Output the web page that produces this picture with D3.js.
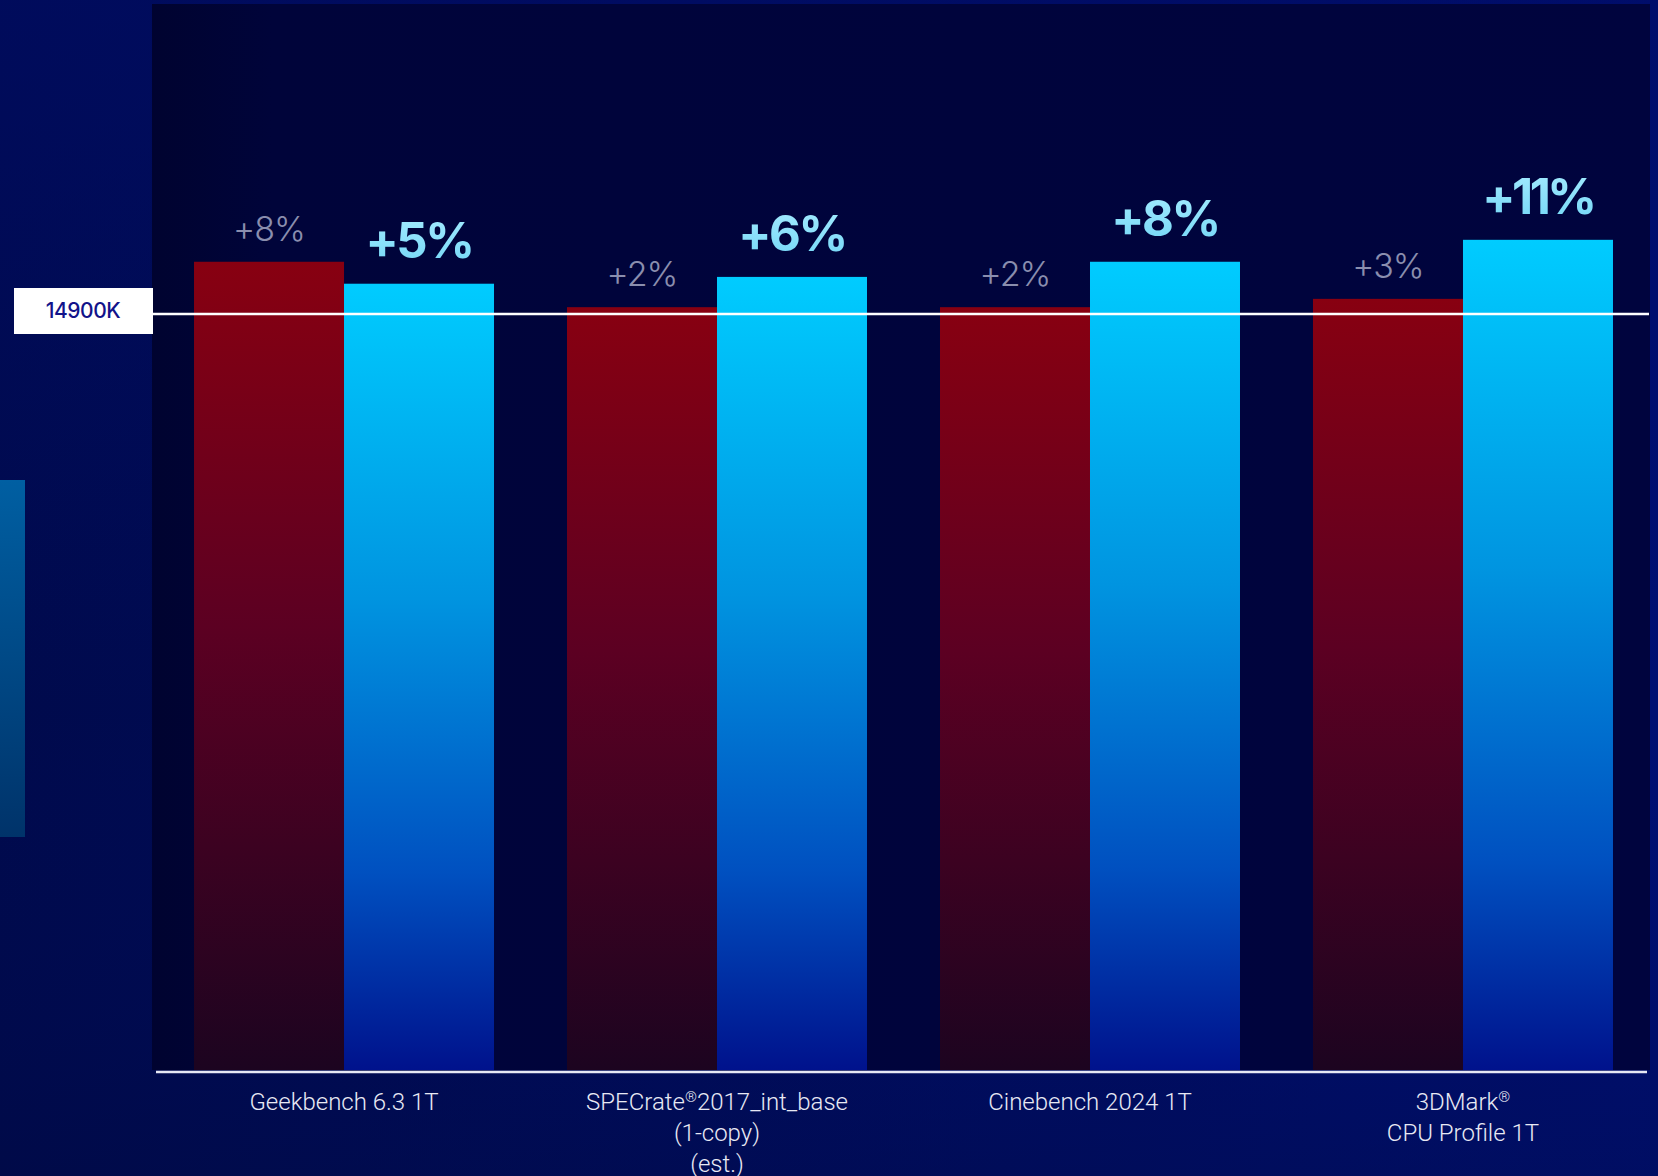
<!DOCTYPE html>
<html>
<head>
<meta charset="utf-8">
<script src="https://cdn.jsdelivr.net/npm/d3@7"></script>
<style>
  html, body { margin: 0; padding: 0; background: #000b52; overflow: hidden; }
  svg { display: block; }
</style>
</head>
<body>
<svg id="chart" width="1658" height="1176"></svg>
<script>
// ---- data (relative performance index, 14900K = 100) ----
const categories = ["Geekbench 6.3 1T", "SPECrate®2017_int_base\n(1-copy)\n(est.)", "Cinebench 2024 1T", "3DMark®\nCPU Profile 1T"];
const series = ["other", "new"];
const otherValues = [106.9, 100.9, 100.9, 102.0];
const newValues = [104.0, 104.9, 106.9, 109.8];
const otherLabels = ["+8%", "+2%", "+2%", "+3%"];
const newLabels = ["+5%", "+6%", "+8%", "+11%"];
const referenceName = "14900K";
const referenceValue = 100;

const W = 1658, H = 1176;
const svg = d3.select("#chart");
const defs = svg.append("defs");

const bg = defs.append("linearGradient").attr("id", "bg").attr("x1", 0).attr("y1", 0).attr("x2", 1).attr("y2", 0);
bg.append("stop").attr("offset", "0%").attr("stop-color", "#000a4c");
bg.append("stop").attr("offset", "100%").attr("stop-color", "#000f72");
const bgv = defs.append("linearGradient").attr("id", "bgv").attr("x1", 0).attr("y1", 0).attr("x2", 0).attr("y2", 1);
bgv.append("stop").attr("offset", "0%").attr("stop-color", "#000c66").attr("stop-opacity", 0.6);
bgv.append("stop").attr("offset", "60%").attr("stop-color", "#000c66").attr("stop-opacity", 0);
bgv.append("stop").attr("offset", "100%").attr("stop-color", "#000a40").attr("stop-opacity", 0.3);

const panelG = defs.append("linearGradient").attr("id", "panel").attr("x1", 0).attr("y1", 0).attr("x2", 1).attr("y2", 0);
panelG.append("stop").attr("offset", "0%").attr("stop-color", "#000330");
panelG.append("stop").attr("offset", "8%").attr("stop-color", "#00043a");
panelG.append("stop").attr("offset", "100%").attr("stop-color", "#00043e");

const redG = defs.append("linearGradient").attr("id", "redG").attr("x1", 0).attr("y1", 0).attr("x2", 0).attr("y2", 1);
redG.append("stop").attr("offset", "0%").attr("stop-color", "#880011");
redG.append("stop").attr("offset", "45%").attr("stop-color", "#5c0022");
redG.append("stop").attr("offset", "100%").attr("stop-color", "#1c0420");

const blueG = defs.append("linearGradient").attr("id", "blueG").attr("x1", 0).attr("y1", 0).attr("x2", 0).attr("y2", 1);
blueG.append("stop").attr("offset", "0%").attr("stop-color", "#00ccff");
blueG.append("stop").attr("offset", "40%").attr("stop-color", "#0094e0");
blueG.append("stop").attr("offset", "75%").attr("stop-color", "#0050c0");
blueG.append("stop").attr("offset", "100%").attr("stop-color", "#00128c");

const stripG = defs.append("linearGradient").attr("id", "stripG").attr("x1", 0).attr("y1", 0).attr("x2", 0).attr("y2", 1);
stripG.append("stop").attr("offset", "0%").attr("stop-color", "#005fa2");
stripG.append("stop").attr("offset", "100%").attr("stop-color", "#00336a");

const labG = defs.append("linearGradient").attr("id", "labG").attr("x1", 0).attr("y1", 0).attr("x2", 0).attr("y2", 1);
labG.append("stop").attr("offset", "0%").attr("stop-color", "#a6ecff");
labG.append("stop").attr("offset", "100%").attr("stop-color", "#72d6f6");

svg.append("rect").attr("width", W).attr("height", H).attr("fill", "url(#bg)");
svg.append("rect").attr("width", W).attr("height", H).attr("fill", "url(#bgv)");
svg.append("rect").attr("x", 0).attr("y", 480).attr("width", 25).attr("height", 357).attr("fill", "url(#stripG)");

// plot panel
svg.append("rect").attr("x", 152).attr("y", 4).attr("width", 1498).attr("height", 1066).attr("fill", "url(#panel)");

// scales
const x = d3.scaleBand().domain(categories).range([157.5, 1649.5]).paddingInner(0.1957).paddingOuter(0.0979);
const xs = d3.scaleBand().domain(series).range([0, x.bandwidth()]).padding(0);
const y = d3.scaleLinear().domain([0, referenceValue]).range([1071, 314]);

const rows = categories.map((c, i) => ({
  cat: c,
  bars: [
    { s: "other", v: otherValues[i], label: otherLabels[i] },
    { s: "new", v: newValues[i], label: newLabels[i] }
  ]
}));

const groups = svg.append("g").selectAll("g").data(rows).join("g")
  .attr("transform", d => `translate(${x(d.cat)},0)`);

groups.selectAll("rect").data(d => d.bars).join("rect")
  .attr("x", d => xs(d.s))
  .attr("y", d => y(d.v))
  .attr("width", xs.bandwidth())
  .attr("height", d => y(0) - y(d.v) - 1)
  .attr("fill", d => d.s === "other" ? "url(#redG)" : "url(#blueG)");

groups.selectAll("text.val").data(d => d.bars).join("text")
  .attr("class", "val")
  .attr("x", d => xs(d.s) + xs.bandwidth() / 2)
  .attr("y", d => y(d.v) - (d.s === "other" ? 21 : 26))
  .attr("text-anchor", "middle")
  .attr("font-family", "Inter, 'Noto Sans', sans-serif")
  .attr("font-size", d => d.s === "other" ? 34 : 49)
  .attr("font-weight", d => d.s === "other" ? 300 : 700)
  .attr("letter-spacing", d => d.s === "other" ? "-1px" : (d.label.length > 3 ? "-3.5px" : "-2.5px"))
  .attr("fill", d => d.s === "other" ? "#8a8eae" : "url(#labG)")
  .text(d => d.label);

// reference line
svg.append("line").attr("x1", 153).attr("x2", 1649).attr("y1", y(referenceValue)).attr("y2", y(referenceValue))
  .attr("stroke", "#ffffff").attr("stroke-width", 2.5);
svg.append("rect").attr("x", 14).attr("y", 288).attr("width", 139).attr("height", 46).attr("fill", "#ffffff");
svg.append("text").attr("x", 83).attr("y", 318).attr("text-anchor", "middle")
  .attr("font-family", "Inter, 'Noto Sans', sans-serif").attr("font-size", 21).attr("font-weight", 500)
  .attr("letter-spacing", "-0.5px")
  .attr("fill", "#12138a").text(referenceName);

// x axis baseline
svg.append("line").attr("x1", 156).attr("x2", 1647).attr("y1", 1072).attr("y2", 1072)
  .attr("stroke", "#e6e8f4").attr("stroke-width", 2.5);

// category labels
const cl = svg.append("g").selectAll("text").data(categories).join("text")
  .attr("text-anchor", "middle")
  .attr("font-family", "Roboto, 'Noto Sans', sans-serif")
  .attr("font-size", 24)
  .attr("font-weight", 300)
  .attr("fill", "#e8e9f4");
cl.each(function(c) {
  const t = d3.select(this);
  const cx = x(c) + x.bandwidth() / 2;
  c.split("\n").forEach((line, li) => {
    const tl = t.append("tspan").attr("x", cx).attr("y", 1110 + li * 31);
    const parts = line.split("®");
    parts.forEach((p, pi) => {
      const seg = tl.append("tspan").text(p);
      if (pi > 0) seg.attr("dy", 8);
      if (pi < parts.length - 1) {
        tl.append("tspan").attr("font-size", 15).attr("dy", -8).text("®");
      }
    });
  });
});
</script>
</body>
</html>
